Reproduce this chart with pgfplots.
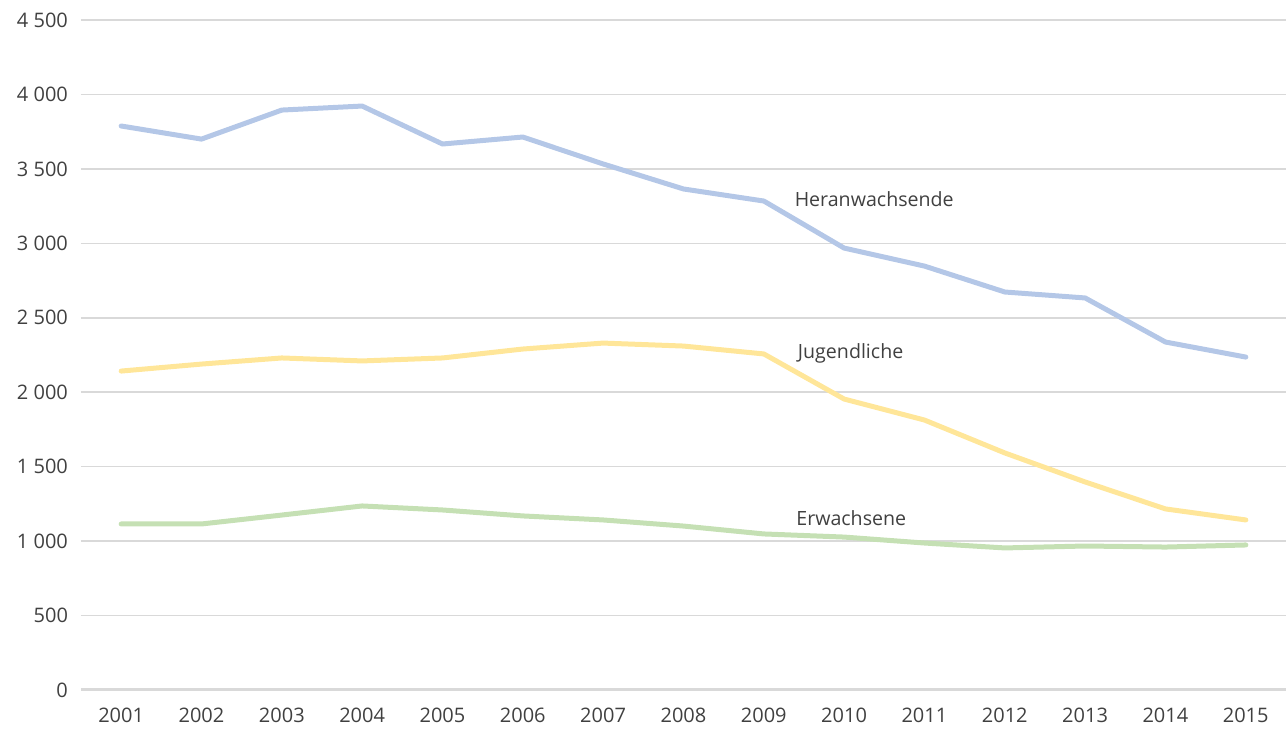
\documentclass[border=0pt]{standalone}
\usepackage{pgfplots}
\pgfplotsset{compat=1.18}
\usepackage{fontspec}
\setmainfont{Open Sans}
\definecolor{gridc}{HTML}{D9D9D9}
\definecolor{heran}{HTML}{B4C7E7}
\definecolor{jugend}{HTML}{FFE699}
\definecolor{erw}{HTML}{C5E0B4}
\definecolor{txt}{HTML}{404040}
\begin{document}
\begin{tikzpicture}
\begin{axis}[
  scale only axis,
  width=602.5pt, height=335pt,
  xmin=2000.5, xmax=2015.5,
  ymin=0, ymax=4500,
  xtick={2001,...,2015},
  xticklabel style={/pgf/number format/1000 sep={}},
  ytick={0,500,...,4500},
  yticklabels={0,500,1 000,1 500,2 000,2 500,3 000,3 500,4 000,4 500},
  /pgf/number format/assume math mode=true,
  tick label style={font=\fontsize{10}{12}\selectfont, text=txt},
  major tick length=0pt,
  axis line style={draw=none},
  ymajorgrids,
  grid style={gridc, line width=0.8pt},
  yticklabel style={xshift=-3pt},
  xticklabel style={yshift=-5.5pt},
  clip=false,
]
\draw[gridc, line width=1.5pt] (axis cs:2000.5,0) -- (axis cs:2015.5,0);
\addplot[heran, line width=2.5pt, line join=round, line cap=round] coordinates {
 (2001,3788) (2002,3700) (2003,3895) (2004,3922) (2005,3667) (2006,3714)
 (2007,3533) (2008,3365) (2009,3284) (2010,2968) (2011,2847) (2012,2673)
 (2013,2633) (2014,2337) (2015,2236)};
\addplot[jugend, line width=2.5pt, line join=round, line cap=round] coordinates {
 (2001,2142) (2002,2189) (2003,2230) (2004,2210) (2005,2230) (2006,2290)
 (2007,2330) (2008,2310) (2009,2257) (2010,1954) (2011,1813) (2012,1592)
 (2013,1397) (2014,1216) (2015,1142)};
\addplot[erw, line width=2.5pt, line join=round, line cap=round] coordinates {
 (2001,1115) (2002,1115) (2003,1175) (2004,1236) (2005,1209) (2006,1169)
 (2007,1142) (2008,1101) (2009,1048) (2010,1027) (2011,987) (2012,954)
 (2013,967) (2014,960) (2015,974)};
\node[anchor=west, inner sep=0pt, text=txt, font=\fontsize{9.8}{12}\selectfont] at (axis cs:2009.38,3297) {Heranwachsende};
\node[anchor=west, inner sep=0pt, text=txt, font=\fontsize{9.8}{12}\selectfont] at (axis cs:2009.42,2263) {Jugendliche};
\node[anchor=west, inner sep=0pt, text=txt, font=\fontsize{9.8}{12}\selectfont] at (axis cs:2009.40,1155) {Erwachsene};
\end{axis}
\pgfresetboundingbox
\path ([xshift=-40.5pt,yshift=-19.5pt]current axis.south west) rectangle ([yshift=10pt]current axis.north east);
\end{tikzpicture}
\end{document}
